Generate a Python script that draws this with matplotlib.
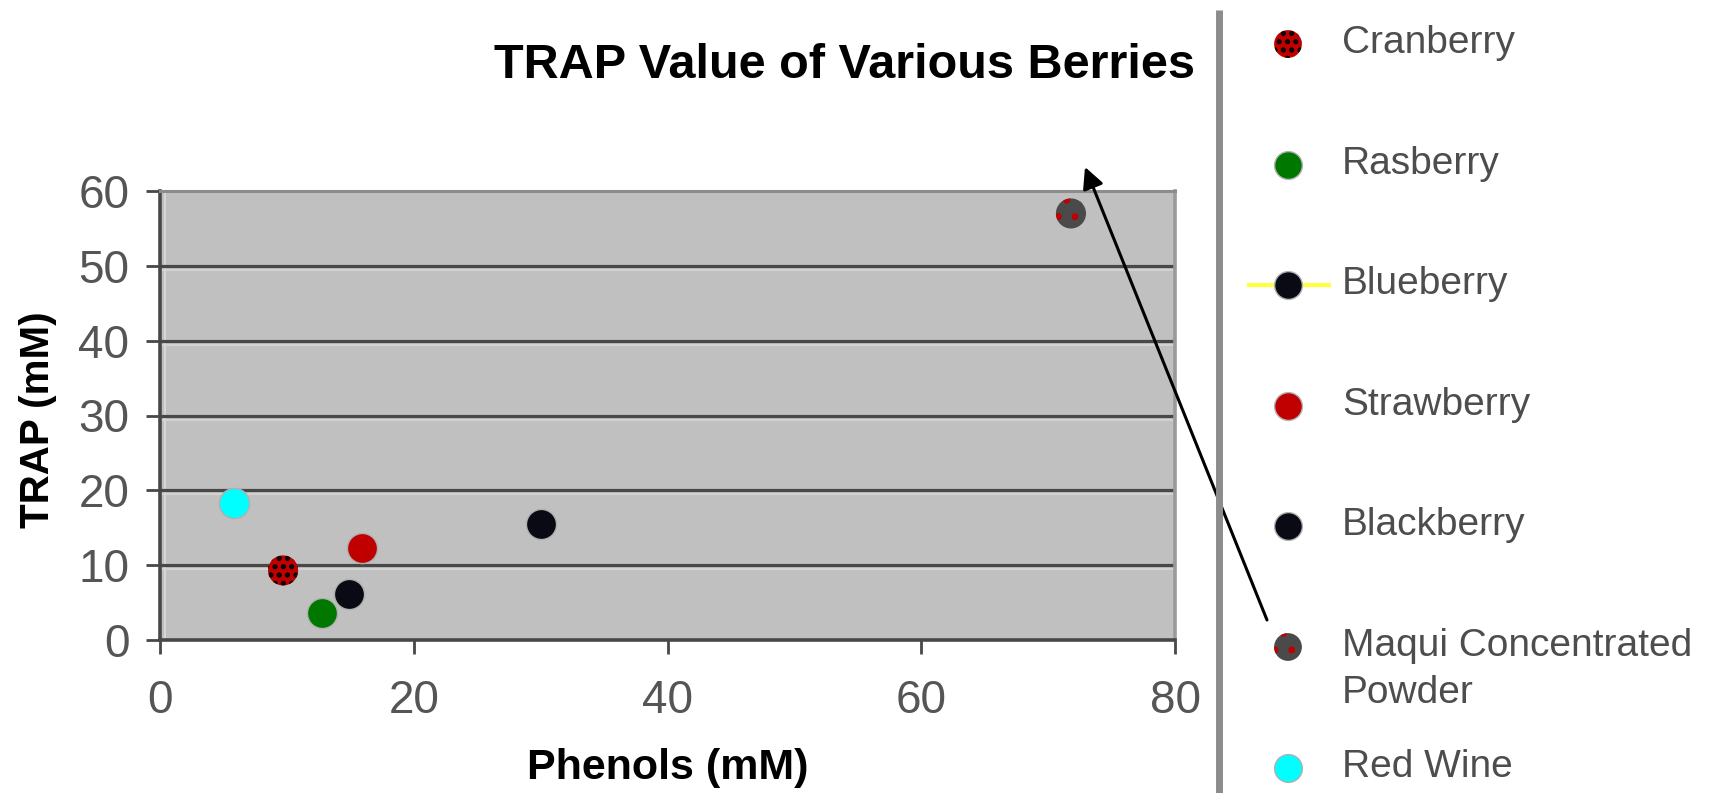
import matplotlib
matplotlib.use("Agg")
import matplotlib.pyplot as plt
import matplotlib.transforms as mtransforms

plt.rcParams['font.family'] = ['Liberation Sans', 'DejaVu Sans']
plt.rcParams['hatch.linewidth'] = 2.5

# TRAP vs phenols, one point per sample
names = ["Cranberry", "Rasberry", "Blueberry", "Strawberry", "Blackberry",
         "Maqui Concentrated\nPowder", "Red Wine"]
phenols = [9.7, 12.8, 14.9, 15.9, 30.0, 71.8, 5.8]
trap = [9.3, 3.6, 6.1, 12.3, 15.5, 57.0, 18.3]
face = ["#c00000", "#007800", "#0a0a14", "#c00000", "#0a0a14", "#4a4a4a", "#00ffff"]
hatch = ["..", None, None, None, None, ".", None]
hatch_col = ["#000000", None, None, None, None, "#c00000", None]
line_col = [None, None, "#ffff40", None, None, None, None]

xticks = [0, 20, 40, 60, 80]
yticks = [0, 10, 20, 30, 40, 50, 60]

W, H = 1709, 793
fig = plt.figure(figsize=(W / 100, H / 100), dpi=100)
ax = fig.add_axes([160 / W, 1 - 640 / H, 1015 / W, 449 / H])
ax.set_facecolor("#c0c0c0")
ax.set_xlim(0, 80)
ax.set_ylim(0, 60)
ax.set_xticks(xticks)
ax.set_yticks(yticks)

# dark gridlines with a pale line underneath
row_tr = mtransforms.blended_transform_factory(ax.transAxes, ax.transData)
shift = row_tr + mtransforms.ScaledTranslation(0, -4 / 100, fig.dpi_scale_trans)
for v in yticks[1:-1]:
    ax.plot([0, 1], [v, v], color="#d6d6d6", lw=1.2, transform=shift, zorder=1)
    ax.axhline(v, color="#484848", lw=2.3, zorder=1.5)
# pale edge just inside the left spine
col_tr = ax.transAxes + mtransforms.ScaledTranslation(5 / 100, 0, fig.dpi_scale_trans)
ax.plot([0, 0], [0, 1], color="#d6d6d6", lw=1.5, transform=col_tr, zorder=1)

MS = 470
for i in range(len(names)):
    kw = dict(s=MS, c=face[i], zorder=3, linewidths=0)
    if hatch[i]:
        kw.update(hatch=hatch[i], edgecolors=hatch_col[i])
    else:
        kw.update(edgecolors="#b0b0b0", linewidths=1.0)
    ax.scatter([phenols[i]], [trap[i]], **kw)

for side in ["left", "bottom"]:
    ax.spines[side].set_color("#484848")
    ax.spines[side].set_linewidth(2.6)
ax.spines["top"].set_color("#8c8c8c")
ax.spines["top"].set_linewidth(2.2)
ax.spines["right"].set_color("#9a9a9a")
ax.spines["right"].set_linewidth(2.6)
ax.spines["right"].set_linestyle((0, (1, 1)))

ax.tick_params(direction="out", length=10, width=2, color="#484848",
               labelsize=33, labelcolor="#555555")
ax.tick_params(axis="x", pad=18)
ax.tick_params(axis="y", pad=12)

ax.set_xlabel("Phenols (mM)", fontsize=31, fontweight="bold", va="center")
ax.xaxis.set_label_coords(0.5, -0.285)
ax.set_ylabel("TRAP (mM)", fontsize=29, fontweight="bold", va="center",
              rotation_mode="anchor")
ax.yaxis.set_label_coords(-0.12, 0.49)

fig.text(845 / W, 1 - 66 / H, "TRAP Value of Various Berries", fontsize=35,
         fontweight="bold", ha="center", va="center")

# legend panel on the right, pixel coordinates
lax = fig.add_axes([1200 / W, 0, 509 / W, 1])
lax.set_xlim(1200, 1709)
lax.set_ylim(793, 0)
lax.axis("off")
lax.plot([1219, 1219], [10, 793], color="#8c8c8c", lw=5, solid_capstyle="butt")

row0, step, line_h = 44, 120.6, 47
for i, name in enumerate(names):
    y = row0 + step * i
    if line_col[i]:
        lax.plot([1247, 1331], [y, y], color=line_col[i], lw=3, zorder=2,
                 solid_capstyle="butt")
    kw = dict(s=MS * 0.85, c=face[i], zorder=3, linewidths=0)
    if hatch[i]:
        kw.update(hatch=hatch[i], edgecolors=hatch_col[i])
    else:
        kw.update(edgecolors="#b0b0b0", linewidths=1.0)
    lax.scatter([1288], [y], **kw)
    for k, part in enumerate(name.split("\n")):
        lax.text(1342, y + 9 + line_h * k, part, fontsize=28, color="#4d4d4d",
                 va="baseline", ha="left")

ax.annotate("", xy=(1085, H - 167), xytext=(1267, H - 620),
            xycoords="figure pixels", textcoords="figure pixels",
            arrowprops=dict(arrowstyle="-|>", color="black", lw=2.2,
                            mutation_scale=32, shrinkA=0, shrinkB=0),
            annotation_clip=False, zorder=10)

fig.savefig("out.png", dpi=100)
